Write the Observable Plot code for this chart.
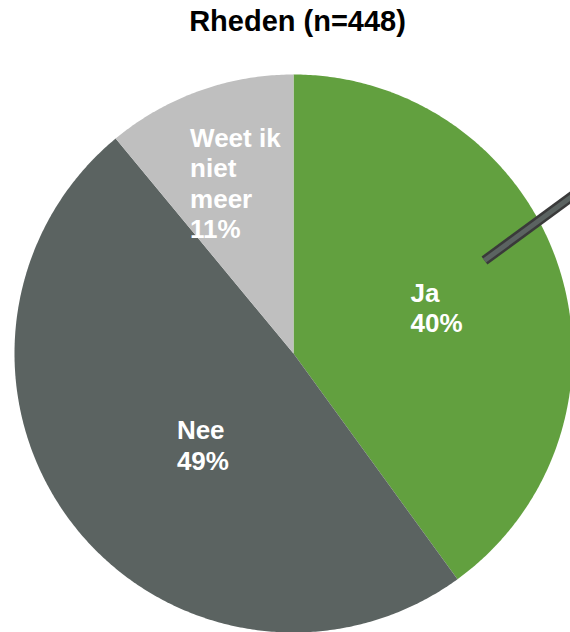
<!DOCTYPE html>
<html>
<head>
<meta charset="utf-8">
<script src="https://cdn.jsdelivr.net/npm/d3@7"></script>
<script src="https://cdn.jsdelivr.net/npm/@observablehq/plot@0.6"></script>
<style>
  html, body { margin: 0; padding: 0; background: #fff; overflow: hidden; }
  #title { height: 50px; line-height: 42px; font-family: "Liberation Sans", Arial, sans-serif; font-weight: bold; font-size: 29px; color: #000; text-align: center; padding-left: 25px; box-sizing: border-box; width: 570px; }
  #chart svg { display: block; }
</style>
</head>
<body>
<div id="title">Rheden (n=448)</div>
<div id="chart"></div>
<script>
// Data
const categories = ["Ja", "Nee", "Weet ik niet meer"];
const values = [40, 49, 11];
const labelNames = ["Ja", "Nee", "Weet ik\nniet\nmeer"];
const colors = ["#62A03F", "#5B6361", "#BFBFBF"];

// Layout (code-side)
const W = 570, H = 582, R = 279, CX = 293, CY = 303;
const labelPlacement = {
  "Ja": {f: 0.535, dx: -25, dy: 0},
  "Nee": {f: 0.47, dx: -13, dy: 11},
  "Weet ik niet meer": {f: 0.65, dx: -42, dy: 0}
};

const total = d3.sum(values);
const slicePts = [];
const labels = [];
let cum = 0;
categories.forEach((cat, i) => {
  const a0 = cum / total * 2 * Math.PI;
  cum += values[i];
  const a1 = cum / total * 2 * Math.PI;
  slicePts.push({cat, x: 0, y: 0});
  const n = Math.max(2, Math.ceil((a1 - a0) / (Math.PI / 360)));
  for (let k = 0; k <= n; k++) {
    const a = a0 + (a1 - a0) * k / n;
    slicePts.push({cat, x: Math.sin(a), y: Math.cos(a)});
  }
  slicePts.push({cat, x: 0, y: 0});
  const mid = (a0 + a1) / 2;
  const p = labelPlacement[cat];
  labels.push({cat, x: p.f * Math.sin(mid), y: p.f * Math.cos(mid), dx: p.dx, dy: p.dy,
    text: labelNames[i] + "\n" + values[i] + "%"});
});

// leader line stub (data units relative to radius)
const leader = [{x: 0.6846, y: 0.3333}, {x: 1.0287, y: 0.5857}];

const textMarks = labels.map(l => Plot.text([l], {
  x: "x", y: "y", text: "text", dx: l.dx, dy: l.dy,
  textAnchor: "start", lineAnchor: "middle", lineHeight: 1.16,
  fill: "white", fontSize: 26, fontWeight: "bold",
  fontFamily: "Liberation Sans, Arial, sans-serif"
}));

const chart = Plot.plot({
  width: W, height: H, margin: 0,
  style: {background: "white", overflow: "visible"},
  x: {domain: [-CX / R, (W - CX) / R], range: [0, W], axis: null},
  y: {domain: [-(H - CY) / R, CY / R], range: [H, 0], axis: null},
  color: {domain: categories, range: colors, type: "ordinal"},
  marks: [
    Plot.line(slicePts, {x: "x", y: "y", z: "cat", fill: "cat", stroke: "none", curve: "linear"}),
    Plot.line(leader, {x: "x", y: "y", stroke: "#3a3a3a", strokeWidth: 10, strokeLinecap: "butt"}),
    Plot.line(leader, {x: "x", y: "y", stroke: "#5B6361", strokeWidth: 5, strokeLinecap: "butt"}),
    ...textMarks
  ]
});
document.getElementById("chart").appendChild(chart);
</script>
</body>
</html>
